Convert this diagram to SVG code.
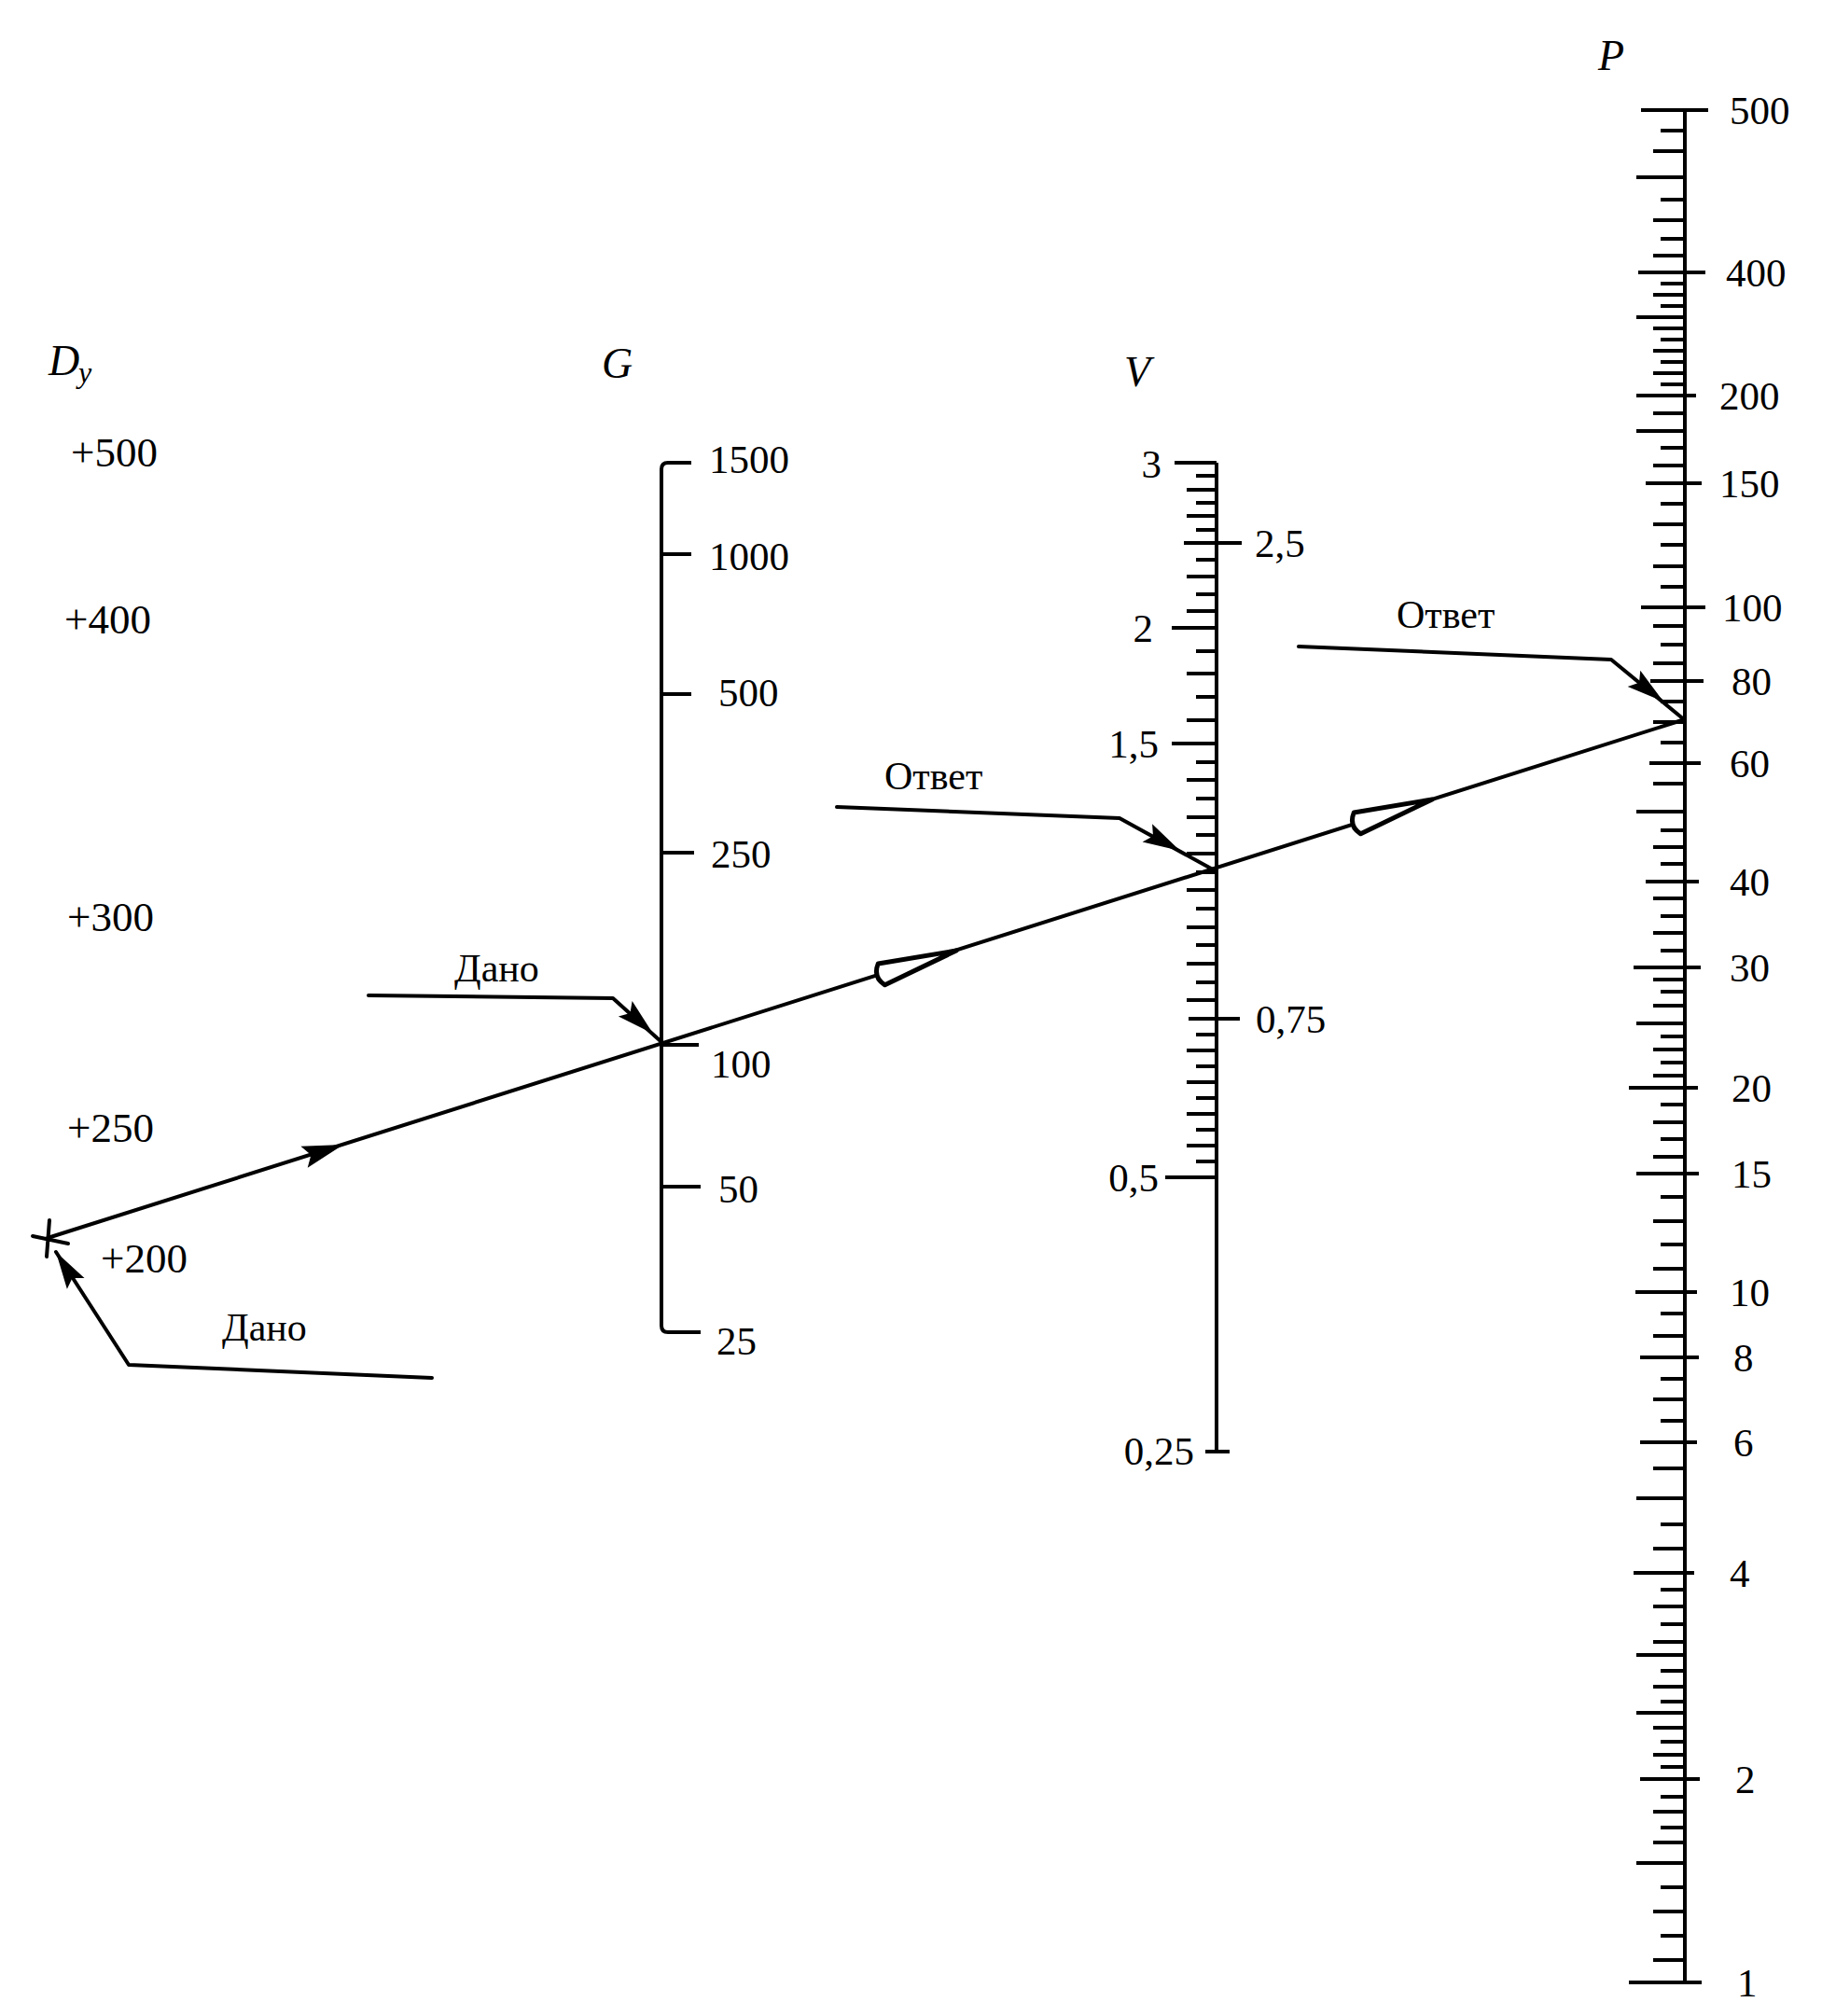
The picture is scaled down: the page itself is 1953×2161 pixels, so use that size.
<svg xmlns="http://www.w3.org/2000/svg" xmlns:xlink="http://www.w3.org/1999/xlink" width="1953" height="2161" viewBox="0 0 1953 2161">
<style>
.ln{fill:none;stroke:#000;stroke-width:4;stroke-linecap:round;stroke-linejoin:round}
.tk{fill:none;stroke:#000;stroke-width:4}
.t{font-family:"Liberation Serif","Times New Roman",serif;font-size:43px;fill:#000}
.d{font-size:45px}
.it{font-family:"Liberation Serif","Times New Roman",serif;font-style:italic;font-size:46px;fill:#000}
.lb{font-family:"Liberation Serif","Times New Roman",serif;font-size:42px;fill:#000}
</style>
<defs>
<path id="ah" d="M0,0 L-40,-11 L-33,0 L-40,11 Z" fill="#000"/>
<path id="oa" d="M0,0 L-84,-12 Q-94,0 -84,12 Z" fill="#fff" stroke="#000" stroke-width="5" stroke-linejoin="round"/>
</defs>

<g id="axis-Dy">
<text class="it" x="52" y="402">D</text><text class="it" x="84" y="410" style="font-size:32px">y</text>
<text class="t d" x="76" y="500">+500</text>
<text class="t d" x="69" y="679">+400</text>
<text class="t d" x="72" y="998">+300</text>
<text class="t d" x="72" y="1224">+250</text>
<text class="t d" x="108" y="1364">+200</text>
</g>

<g id="axis-G">
<text class="it" x="645" y="405">G</text>
<path class="tk" d="M741,496 H716 Q709,496 709,503 V1421 Q709,1428 716,1428 H751"/>
<path class="tk" d="M709,594h32 M709,744h32 M709,914h35 M709,1120h40 M709,1272h42"/>
<text class="t" x="760" y="507">1500</text>
<text class="t" x="760" y="611">1000</text>
<text class="t" x="770" y="757">500</text>
<text class="t" x="762" y="930">250</text>
<text class="t" x="762" y="1155">100</text>
<text class="t" x="770" y="1289">50</text>
<text class="t" x="768" y="1452">25</text>
</g>

<g id="axis-V">
<text class="it" x="1205" y="414">V</text>
<path class="tk" d="M1304,496 V1556"/>
<path class="tk" d="M1259,496 H1304 M1269,582 H1331 M1256,673 H1304 M1256,797 H1304 M1274,1092 H1329 M1249,1262 H1304 M1292,1556 H1318"/>
<path class="tk" d="M1282,510h22 M1282,539h22 M1282,568h22 M1282,600h22 M1282,637h22 M1282,698h22 M1282,747h22 M1282,817h22 M1282,856h22 M1282,895h22 M1282,935h22 M1282,974h22 M1282,1013h22 M1282,1053h22 M1282,1109h22 M1282,1143h22 M1282,1177h22 M1282,1211h22 M1282,1245h22"/>
<path class="tk" d="M1272,525h32 M1272,553h32 M1272,618h32 M1272,655h32 M1272,722h32 M1272,772h32 M1272,836h32 M1272,876h32 M1272,915h32 M1272,954h32 M1272,994h32 M1272,1033h32 M1272,1072h32 M1272,1126h32 M1272,1160h32 M1272,1194h32 M1272,1228h32"/>
<text class="t" x="1245" y="512" text-anchor="end">3</text>
<text class="t" x="1345" y="597">2,5</text>
<text class="t" x="1236" y="688" text-anchor="end">2</text>
<text class="t" x="1242" y="812" text-anchor="end">1,5</text>
<text class="t" x="1346" y="1107">0,75</text>
<text class="t" x="1242" y="1277" text-anchor="end">0,5</text>
<text class="t" x="1280" y="1570" text-anchor="end">0,25</text>
</g>

<g id="axis-P">
<text class="it" x="1713" y="75">P</text>
<g transform="translate(-4,0)">
<path class="tk" d="M1810,118 V2125"/>
<path class="tk" d="M1763,118 H1835 M1760,292 H1832 M1758,424 H1822 M1768,518 H1828 M1763,651 H1832 M1773,730 H1830 M1772,818 H1827 M1768,945 H1825 M1755,1037 H1827 M1750,1166 H1824 M1758,1258 H1825 M1757,1385 H1823 M1762,1455 H1825 M1762,1546 H1823 M1755,1686 H1820 M1762,1907 H1826 M1750,2125 H1828"/>
<path class="tk" d="M1758,190h52 M1758,340h52 M1758,462h52 M1758,870h52 M1758,1097h52 M1758,1606h52 M1758,1774h52 M1758,1836h52 M1758,1997h52"/>
<path class="tk" d="M1784,140h26 M1784,214h26 M1784,256h26 M1784,304h26 M1784,328h26 M1784,364h26 M1784,388h26 M1784,412h26 M1784,480h26 M1784,540h26 M1784,584h26 M1784,629h26 M1784,691h26 M1784,752h26 M1784,796h26 M1784,890h26 M1784,926h26 M1784,982h26 M1784,1019h26 M1784,1063h26 M1784,1111h26 M1784,1139h26 M1784,1184h26 M1784,1221h26 M1784,1283h26 M1784,1334h26 M1784,1408h26 M1784,1478h26 M1784,1523h26 M1784,1634h26 M1784,1704h26 M1784,1741h26 M1784,1791h26 M1784,1824h26 M1784,1867h26 M1784,1894h26 M1784,1926h26 M1784,1959h26 M1784,2023h26 M1784,2075h26"/>
<path class="tk" d="M1776,162h34 M1776,236h34 M1776,274h34 M1776,316h34 M1776,352h34 M1776,376h34 M1776,400h34 M1776,443h34 M1776,499h34 M1776,562h34 M1776,607h34 M1776,671h34 M1776,711h34 M1776,774h34 M1776,840h34 M1776,908h34 M1776,963h34 M1776,1000h34 M1776,1050h34 M1776,1078h34 M1776,1125h34 M1776,1153h34 M1776,1203h34 M1776,1240h34 M1776,1309h34 M1776,1360h34 M1776,1432h34 M1776,1500h34 M1776,1574h34 M1776,1660h34 M1776,1722h34 M1776,1760h34 M1776,1808h34 M1776,1852h34 M1776,1881h34 M1776,1942h34 M1776,1975h34 M1776,2049h34 M1776,2101h34"/>
</g>
<text class="t" x="1854" y="133">500</text>
<text class="t" x="1850" y="307">400</text>
<text class="t" x="1843" y="439">200</text>
<text class="t" x="1843" y="533">150</text>
<text class="t" x="1846" y="666">100</text>
<text class="t" x="1856" y="745">80</text>
<text class="t" x="1854" y="833">60</text>
<text class="t" x="1854" y="960">40</text>
<text class="t" x="1854" y="1052">30</text>
<text class="t" x="1856" y="1181">20</text>
<text class="t" x="1856" y="1273">15</text>
<text class="t" x="1854" y="1400">10</text>
<text class="t" x="1858" y="1470">8</text>
<text class="t" x="1858" y="1561">6</text>
<text class="t" x="1854" y="1701">4</text>
<text class="t" x="1860" y="1922">2</text>
<text class="t" x="1862" y="2140">1</text>
</g>

<g id="labels">
<text class="lb" x="238" y="1437">Дано</text>
<text class="lb" x="487" y="1052">Дано</text>
<text class="lb" x="948" y="846">Ответ</text>
<text class="lb" x="1497" y="673">Ответ</text>
</g>

<g id="connectors">
<path class="ln" d="M51,1327 L1806,771"/>
<path class="ln" d="M35,1325 L73,1333 M53,1308 L50,1347"/>
<use xlink:href="#ah" transform="translate(368,1227) rotate(-17.57) scale(1.1)"/>
<use xlink:href="#oa" transform="translate(1025,1019) rotate(-17.57)"/>
<use xlink:href="#oa" transform="translate(1535,857) rotate(-17.57)"/>
<polyline class="ln" points="463,1477 138,1463 60,1342"/>
<use xlink:href="#ah" transform="translate(60,1342) rotate(-122)"/>
<polyline class="ln" points="395,1067 657,1070 708,1116"/>
<use xlink:href="#ah" transform="translate(700,1108) rotate(42)"/>
<polyline class="ln" points="897,865 1200,877 1300,932"/>
<use xlink:href="#ah" transform="translate(1265,912) rotate(28.5)"/>
<polyline class="ln" points="1392,693 1727,707 1806,772"/>
<use xlink:href="#ah" transform="translate(1783,752) rotate(38)"/>
</g>
</svg>
